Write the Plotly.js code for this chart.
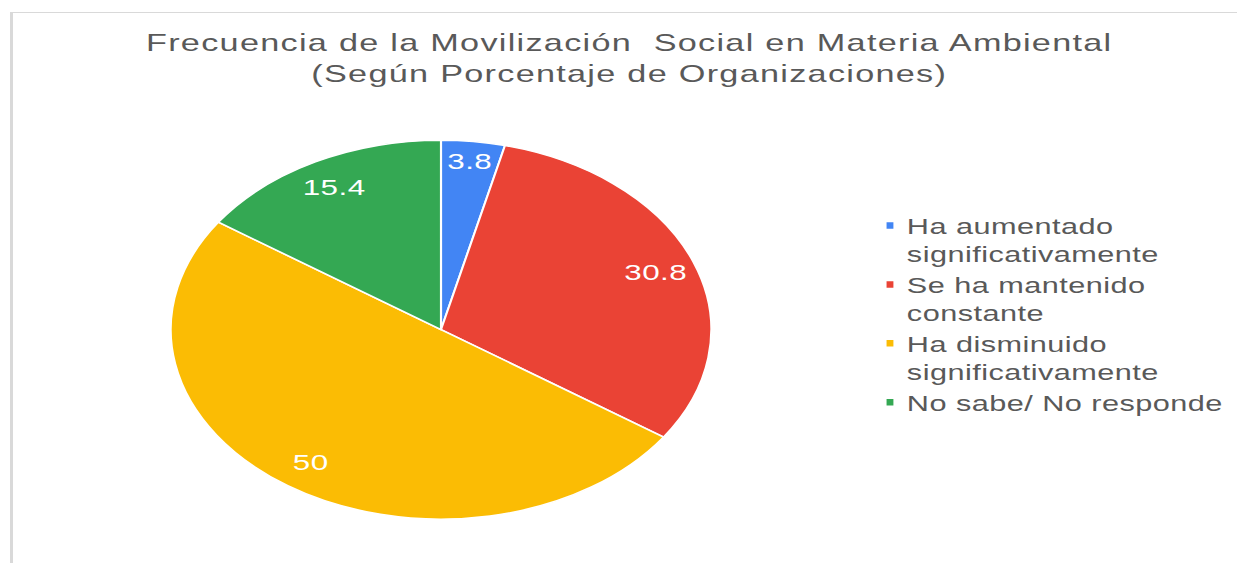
<!DOCTYPE html>
<html>
<head>
<meta charset="utf-8">
<script src="https://cdn.plot.ly/plotly-3.0.1.min.js"></script>
<style>
  html, body { margin: 0; padding: 0; background: #ffffff; overflow: hidden; width: 1237px; height: 563px; }
  #frame { position: absolute; left: 10px; top: 12px; width: 1400px; height: 700px;
           border-top: 1px solid #d9d9d9; border-left: 3px solid #d9d9d9; box-sizing: border-box; }
  #chart { position: absolute; left: 0; top: 0; width: 867px; height: 563px;
           transform-origin: 0 0; transform: scaleX(1.42676); }
  text.gtitle { letter-spacing: 0.9px; }
  text.legendtext { letter-spacing: 0.32px; }
  text.slicetext { letter-spacing: 0.3px; }
</style>
</head>
<body>
<div id="frame"></div>
<div id="chart"></div>
<script>
// Data
const categories = [
  "Ha aumentado<br>significativamente",
  "Se ha mantenido<br>constante",
  "Ha disminuido<br>significativamente",
  "No sabe/ No responde"
];
const values = [3.8, 30.8, 50, 15.4];
const colors = ["#4285f4", "#ea4335", "#fbbc04", "#34a853"];
const titleText = "Frecuencia de la Movilización\u00a0 Social en Materia Ambiental<br>(Según Porcentaje de Organizaciones)";

const FONT = "Arial, 'Liberation Sans', sans-serif";
const pieDomain = { x: [0.137, 0.576], y: [0.078, 0.751] };

// the coloured pie with its legend
const pie = {
  type: "pie",
  labels: categories,
  values: values,
  sort: false,
  direction: "clockwise",
  rotation: 0,
  marker: { colors: colors, line: { color: "#ffffff", width: 1.5 } },
  textinfo: "none",
  hoverinfo: "none",
  domain: pieDomain
};

// same data again, transparent ring, only to place the value labels near the rim
const labelsRing = {
  type: "pie",
  labels: categories,
  values: values,
  sort: false,
  direction: "clockwise",
  rotation: 0,
  hole: 0.7,
  marker: { colors: ["rgba(0,0,0,0)", "rgba(0,0,0,0)", "rgba(0,0,0,0)", "rgba(0,0,0,0)"], line: { width: 0 } },
  textinfo: "value",
  textposition: "inside",
  insidetextorientation: "horizontal",
  textfont: { family: FONT, size: 22, color: "#ffffff" },
  hoverinfo: "none",
  showlegend: false,
  domain: pieDomain
};

const layout = {
  width: 867,
  height: 563,
  margin: { l: 0, r: 0, t: 0, b: 0 },
  paper_bgcolor: "rgba(0,0,0,0)",
  plot_bgcolor: "rgba(0,0,0,0)",
  font: { family: FONT, color: "#595959" },
  title: {
    text: titleText,
    font: { family: FONT, size: 24, color: "#595959" },
    x: 0.5087, xanchor: "center", xref: "container",
    y: 1 - 51 / 563, yanchor: "top", yref: "container"
  },
  showlegend: true,
  legend: {
    x: 0.687, xanchor: "left",
    y: 1 - 205 / 563, yanchor: "top",
    valign: "top",
    font: { family: FONT, size: 21.5, color: "#595959" },
    bgcolor: "rgba(0,0,0,0)",
    borderwidth: 0
  }
};

Plotly.newPlot("chart", [pie, labelsRing], layout, { displayModeBar: false, staticPlot: true }).then(function (gd) {
  // smaller legend squares placed just left of the text, like the original
  document.querySelectorAll("#chart .legendpoints path").forEach(function (p) {
    p.setAttribute("d", "M11.3,4H5V-4H11.3Z");
  });
});
</script>
</body>
</html>
